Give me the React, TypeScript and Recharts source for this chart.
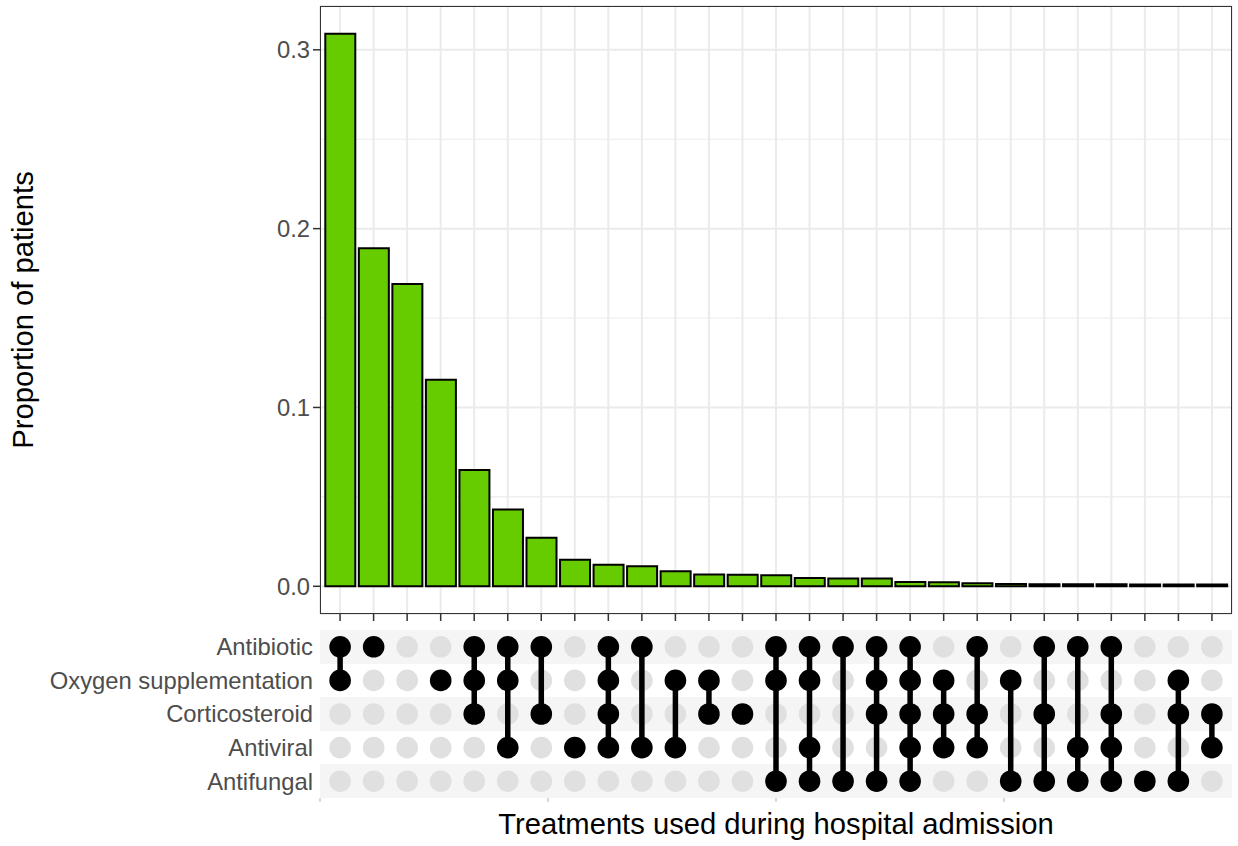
import {
  BarChart,
  Bar,
  XAxis,
  YAxis,
  CartesianGrid,
  ScatterChart,
  Scatter,
} from 'recharts'

const setNames = ['Antibiotic', 'Oxygen supplementation', 'Corticosteroid', 'Antiviral', 'Antifungal']

const combinations: string[][] = [
  ['Antibiotic', 'Oxygen supplementation'],
  ['Antibiotic'],
  [],
  ['Oxygen supplementation'],
  ['Antibiotic', 'Oxygen supplementation', 'Corticosteroid'],
  ['Antibiotic', 'Oxygen supplementation', 'Antiviral'],
  ['Antibiotic', 'Corticosteroid'],
  ['Antiviral'],
  ['Antibiotic', 'Oxygen supplementation', 'Corticosteroid', 'Antiviral'],
  ['Antibiotic', 'Antiviral'],
  ['Oxygen supplementation', 'Antiviral'],
  ['Oxygen supplementation', 'Corticosteroid'],
  ['Corticosteroid'],
  ['Antibiotic', 'Oxygen supplementation', 'Antifungal'],
  ['Antibiotic', 'Oxygen supplementation', 'Antiviral', 'Antifungal'],
  ['Antibiotic', 'Antifungal'],
  ['Antibiotic', 'Oxygen supplementation', 'Corticosteroid', 'Antifungal'],
  ['Antibiotic', 'Oxygen supplementation', 'Corticosteroid', 'Antiviral', 'Antifungal'],
  ['Oxygen supplementation', 'Corticosteroid', 'Antiviral'],
  ['Antibiotic', 'Corticosteroid', 'Antiviral'],
  ['Oxygen supplementation', 'Antifungal'],
  ['Antibiotic', 'Corticosteroid', 'Antifungal'],
  ['Antibiotic', 'Antiviral', 'Antifungal'],
  ['Antibiotic', 'Corticosteroid', 'Antiviral', 'Antifungal'],
  ['Antifungal'],
  ['Oxygen supplementation', 'Corticosteroid', 'Antifungal'],
  ['Corticosteroid', 'Antiviral'],
]

const proportions = [
  0.309, 0.189, 0.169, 0.1155, 0.065, 0.043, 0.0272, 0.0149, 0.0121, 0.0112,
  0.0084, 0.0066, 0.0065, 0.0062, 0.0047, 0.0043, 0.0043, 0.0024, 0.0022, 0.0017,
  0.0013, 0.0012, 0.0011, 0.0011, 0.001, 0.001, 0.001,
]

const yTicks = [0, 0.1, 0.2, 0.3]
const yMinorTicks = [0.05, 0.15, 0.25]
const matrixAxisTicks = [0.4, 7.2, 14, 20.8]

const FONT = '"Liberation Sans", Arial, sans-serif'
const TICK_COLOR = '#4d4d4d'

const barData = combinations.map((c, i) => ({
  key: c.length ? c.join(' & ') : 'None',
  value: proportions[i],
}))

// one entry per set/combination cell
const inactivePoints = combinations.flatMap((c, i) =>
  setNames.filter((s) => !c.includes(s)).map((s) => ({ x: i + 1, y: setNames.indexOf(s) + 1 })),
)
const activeColumns = combinations.map((c, i) =>
  setNames
    .map((s, j) => ({ set: s, x: i + 1, y: j + 1 }))
    .filter((p) => c.includes(p.set)),
)

// row band edges for the striped background
const stripeEdges = setNames.map((_, j) => j + 0.5)

function Dot(props: any, fill: string) {
  if (props.cx == null || props.cy == null) return <g />
  return <circle cx={props.cx} cy={props.cy} r={10.8} fill={fill} />
}

const NoLabel = () => <g />

export default function App() {
  return (
    <div style={{ position: 'absolute', left: 0, top: 0, width: 1238, height: 846, background: '#fff', fontFamily: FONT }}>
      <div style={{ position: 'absolute', left: 0, top: 0 }}>
        <BarChart
          width={1238}
          height={624}
          data={barData}
          margin={{ top: 6, right: 6, left: 0, bottom: 0 }}
          barSize={30}
        >
          <CartesianGrid stroke="#ebebeb" strokeWidth={2} />
          <CartesianGrid stroke="#ebebeb" strokeWidth={1.1} vertical={false} horizontalValues={yMinorTicks} />
          <XAxis
            dataKey="key"
            interval={0}
            padding={{ left: 3.3, right: 3.3 }}
            height={10}
            tickSize={7}
            axisLine={false}
            tickLine={{ stroke: '#333', strokeWidth: 1.5 }}
            tick={NoLabel}
          />
          <YAxis
            width={320}
            domain={[-0.0155, 0.3245]}
            ticks={yTicks}
            interval={0}
            tickFormatter={(v: number) => v.toFixed(1)}
            tickSize={7}
            tickMargin={3}
            axisLine={false}
            tickLine={{ stroke: '#333', strokeWidth: 1.5 }}
            tick={{ fill: TICK_COLOR, fontSize: 23.8, fontFamily: FONT }}
          />
          <Bar dataKey="value" fill="#66cc00" stroke="#000" strokeWidth={2} isAnimationActive={false} />
        </BarChart>
      </div>
      <div
        style={{
          position: 'absolute', left: 320, top: 6, width: 912, height: 608,
          border: '1.5px solid #333', boxSizing: 'border-box', pointerEvents: 'none',
        }}
      />

      <div style={{ position: 'absolute', left: 0, top: 614 }}>
        <ScatterChart width={1238} height={232} margin={{ top: 16, right: 6, left: 0, bottom: 38 }}>
          <CartesianGrid
            vertical={false}
            stroke="transparent"
            horizontalFill={['#f5f5f5', '#ffffff']}
            horizontalValues={stripeEdges}
          />
          <XAxis
            type="number"
            dataKey="x"
            domain={[0.4, 27.6]}
            ticks={matrixAxisTicks}
            interval={0}
            height={10}
            tickSize={4}
            axisLine={false}
            tickLine={{ stroke: '#b3b3b3', strokeWidth: 1 }}
            tick={NoLabel}
          />
          <YAxis
            type="number"
            dataKey="y"
            reversed
            width={320}
            domain={[0.5, 5.5]}
            ticks={[1, 2, 3, 4, 5]}
            interval={0}
            tickFormatter={(v: number) => setNames[Math.round(v) - 1] ?? ''}
            tickSize={0}
            tickMargin={7}
            axisLine={false}
            tickLine={false}
            tick={{ fill: TICK_COLOR, fontSize: 23.8, fontFamily: FONT }}
          />
          <Scatter data={inactivePoints} shape={(p: any) => Dot(p, '#e0e0e0')} isAnimationActive={false} />
          {activeColumns.map((pts, i) => (
            <Scatter
              key={i}
              data={pts}
              line={{ stroke: '#000', strokeWidth: 5.5 }}
              lineType="joint"
              shape={(p: any) => Dot(p, '#000')}
              isAnimationActive={false}
            />
          ))}
        </ScatterChart>
      </div>

      <div
        style={{
          position: 'absolute', left: 24, top: 310, transform: 'translate(-50%, -50%) rotate(-90deg)',
          fontSize: 29.2, color: '#000', whiteSpace: 'nowrap', lineHeight: 1,
        }}
      >
        Proportion of patients
      </div>
      <div
        style={{
          position: 'absolute', left: 776, top: 825, transform: 'translate(-50%, -50%)',
          fontSize: 29.2, color: '#000', whiteSpace: 'nowrap', lineHeight: 1,
        }}
      >
        Treatments used during hospital admission
      </div>
    </div>
  )
}
